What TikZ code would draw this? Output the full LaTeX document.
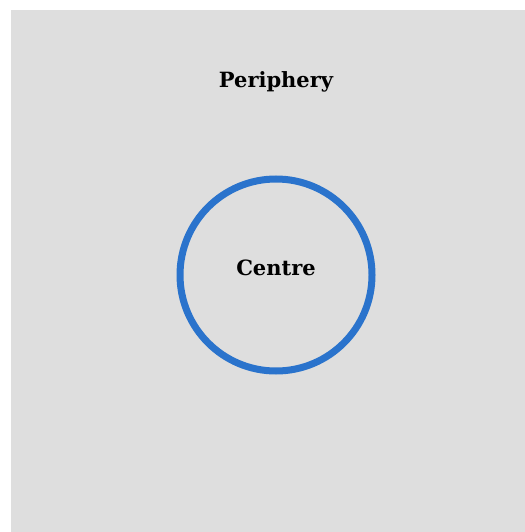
\documentclass[tikz,border=0pt]{standalone}
\usepackage{fontspec}
\setmainfont{DejaVu Serif}
\definecolor{bg}{HTML}{DEDEDE}
\definecolor{ringblue}{HTML}{2A73CC}
\tikzset{
  lbl/.style={font=\fontsize{21bp}{25bp}\selectfont\bfseries, text=black, inner sep=0pt},
  ring/.style={draw=ringblue, line width=7bp, circle, minimum size=192bp, inner sep=0pt}
}
\begin{document}
\begin{tikzpicture}[x=1bp,y=-1bp]
\useasboundingbox (0,0) rectangle (525,532);
\fill[white] (0,0) rectangle (525,532);
\fill[bg] (11,10) rectangle (525,532);
\node[ring] (centre) at (276,275) {};
\node[lbl, anchor=base] (centreText) at (276,275) {Centre};
\node[lbl, anchor=base] (periphery) at (276,88) {Periphery};
\end{tikzpicture}
\end{document}
